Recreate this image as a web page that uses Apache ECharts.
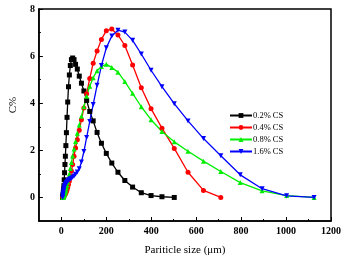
<!DOCTYPE html>
<html>
<head>
<meta charset="utf-8">
<script src="https://cdn.jsdelivr.net/npm/echarts@6/dist/echarts.min.js"></script>
<style>
  html, body { margin: 0; padding: 0; background: #fff; }
  #chart { width: 345px; height: 261px; }
</style>
</head>
<body>
<div id="chart"></div>
<script>
// particle size bins (um)
const sizes = [5.64, 6.32, 7.1, 7.96, 8.93, 10.0, 11.2, 12.6, 14.2, 15.9, 17.8, 20.0, 22.4, 25.2, 28.2, 31.7, 35.6, 39.9, 44.8, 50.2,
  56.4, 63.2, 71.0, 79.6, 89.3, 100.2, 112.5, 126.2, 141.6, 158.9, 178.3, 200.0, 224.4, 251.8, 282.5, 317.0, 355.7, 399.1, 447.7, 502.4,
  563.7, 632.5, 709.6, 796.2, 893.4, 1002.4, 1124.7];

const cs02 = [0, 0.03, 0.08, 0.15, 0.25, 0.35, 0.5, 0.75, 1.05, 1.4, 1.75, 2.2, 2.75, 3.4, 4.05, 4.7, 5.2, 5.6, 5.85, 5.92,
  5.85, 5.65, 5.45, 5.15, 4.85, 4.52, 4.12, 3.65, 3.25, 2.76, 2.3, 1.87, 1.46, 1.07, 0.72, 0.44, 0.2, 0.08, 0.03, 0,
  null, null, null, null, null, null, null];
const cs04 = [null, null, 0, 0.01, 0.02, 0.03, 0.05, 0.07, 0.1, 0.13, 0.16, 0.2, 0.25, 0.32, 0.42, 0.55, 0.7, 0.9, 1.12, 1.4,
  1.75, 2.1, 2.45, 2.85, 3.3, 3.8, 4.4, 5.05, 5.7, 6.22, 6.71, 7.08, 7.15, 6.9, 6.45, 5.62, 4.66, 3.77, 2.94, 2.08,
  1.07, 0.3, 0, null, null, null, null];
const cs08 = [null, null, 0, 0.01, 0.02, 0.04, 0.06, 0.1, 0.14, 0.19, 0.25, 0.32, 0.41, 0.52, 0.66, 0.82, 1.0, 1.23, 1.48, 1.76,
  2.06, 2.38, 2.72, 3.08, 3.45, 3.85, 4.3, 4.72, 5.08, 5.38, 5.56, 5.65, 5.52, 5.32, 4.92, 4.42, 3.85, 3.3, 2.8, 2.36,
  1.96, 1.54, 1.1, 0.63, 0.28, 0.08, 0];
const cs16 = [0, 0.06, 0.12, 0.18, 0.24, 0.3, 0.36, 0.41, 0.46, 0.51, 0.55, 0.59, 0.63, 0.67, 0.7, 0.73, 0.76, 0.79, 0.82, 0.86,
  0.91, 0.98, 1.08, 1.22, 1.5, 1.95, 2.55, 3.22, 3.95, 4.76, 5.6, 6.35, 6.85, 7.1, 7.02, 6.67, 6.09, 5.4, 4.7, 3.98,
  3.25, 2.5, 1.77, 0.96, 0.37, 0.07, 0];

const names = ['0.2% CS', '0.4% CS', '0.8% CS', '1.6% CS'];
const xMajor = [0, 200, 400, 600, 800, 1000, 1200];
const xMinor = [100, 300, 500, 700, 900, 1100];
const yMajor = [0, 2, 4, 6, 8];
const yMinor = [1, 3, 5, 7];

const font = 'Liberation Serif';

function pairs(vals) {
  const out = [];
  vals.forEach((v, i) => { if (v !== null) out.push([sizes[i], v]); });
  return out;
}

function mkSeries(name, vals, color, symbol, rotate) {
  return {
    name: name,
    type: 'line',
    data: pairs(vals),
    symbol: symbol,
    symbolSize: 5,
    symbolRotate: rotate || 0,
    color: color,
    lineStyle: { width: 1.3, color: color },
    itemStyle: { color: color },
    emphasis: { disabled: true }
  };
}

const chart = echarts.init(document.getElementById('chart'), null, { renderer: 'canvas' });

const option = {
  animation: false,
  grid: {
    left: 35, right: 14, top: 9, bottom: 39,
    show: true, borderColor: '#000', borderWidth: 1.5, backgroundColor: 'transparent'
  },
  legend: {
    orient: 'vertical',
    left: 224, top: 106,
    itemWidth: 22, itemHeight: 6, itemGap: 3,
    textStyle: { fontFamily: font, fontSize: 8.5, color: '#000', padding: [0, 0, 0, -4] },
    data: names
  },
  xAxis: [{
    type: 'value', min: -100, max: 1200,
    name: 'Pariticle size (μm)', nameLocation: 'middle', nameGap: 24,
    nameTextStyle: { fontFamily: font, fontSize: 11, color: '#000' },
    splitLine: { show: false },
    axisLine: { onZero: false, lineStyle: { color: '#000', width: 1.5 } },
    axisTick: { inside: true, length: 4, customValues: xMajor, lineStyle: { color: '#000', width: 1 } },
    axisLabel: { customValues: xMajor, margin: 5, fontFamily: font, fontSize: 10, color: '#000', fontWeight: 'bold',
      formatter: v => String(v) }
  }, {
    type: 'value', min: -100, max: 1200, position: 'bottom',
    splitLine: { show: false },
    axisLine: { show: false, onZero: false },
    axisTick: { inside: true, length: 2, customValues: xMinor, lineStyle: { color: '#000', width: 1 } },
    axisLabel: { show: false }
  }],
  yAxis: [{
    type: 'value', min: -1, max: 8,
    name: 'C%', nameLocation: 'middle', nameGap: 19,
    nameTextStyle: { fontFamily: font, fontSize: 11, color: '#000', padding: [0, 0, 0, 20] },
    splitLine: { show: false },
    axisLine: { onZero: false, lineStyle: { color: '#000', width: 1.5 } },
    axisTick: { inside: true, length: 4, customValues: yMajor, lineStyle: { color: '#000', width: 1 } },
    axisLabel: { customValues: yMajor, margin: 4, fontFamily: font, fontSize: 10, color: '#000', fontWeight: 'bold' }
  }, {
    type: 'value', min: -1, max: 8, position: 'left',
    splitLine: { show: false },
    axisLine: { show: false, onZero: false },
    axisTick: { inside: true, length: 2, customValues: yMinor, lineStyle: { color: '#000', width: 1 } },
    axisLabel: { show: false }
  }],
  series: [
    mkSeries(names[0], cs02, '#000000', 'rect'),
    mkSeries(names[1], cs04, '#ff0000', 'circle'),
    mkSeries(names[2], cs08, '#00ee00', 'triangle'),
    mkSeries(names[3], cs16, '#0000ff', 'triangle', 180)
  ]
};

chart.setOption(option);
</script>
</body>
</html>
